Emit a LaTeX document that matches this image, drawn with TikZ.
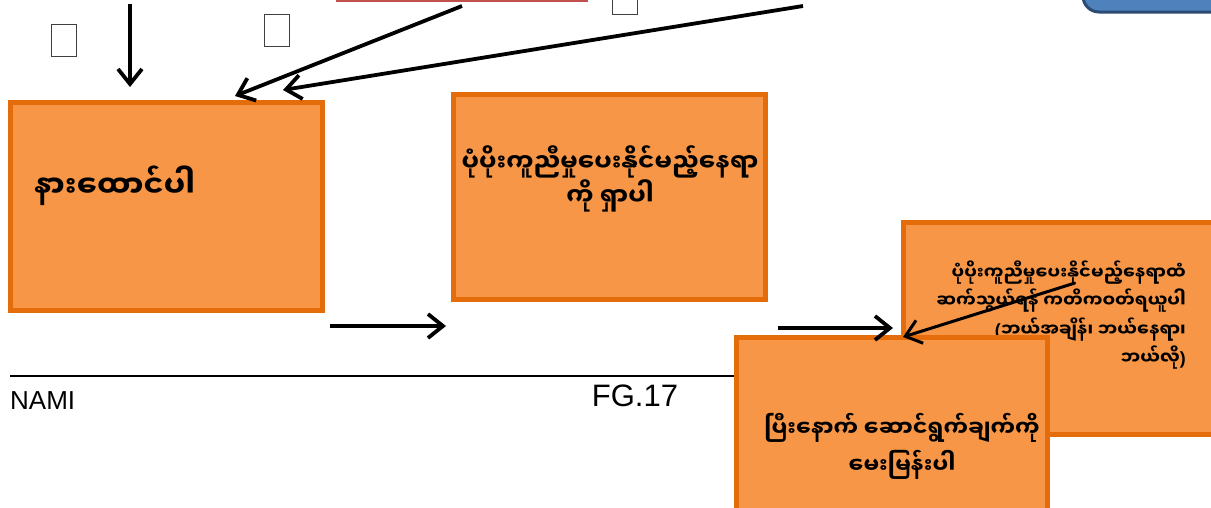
\documentclass[tikz,border=0pt]{standalone}
\usepackage{fontspec}
\setmainfont{Liberation Sans}
\newfontfamily\mya[Script=Myanmar]{Noto Sans Myanmar UI}
\usetikzlibrary{arrows.meta}
\definecolor{orfill}{HTML}{F79646}
\definecolor{ordraw}{HTML}{E46C0A}
\definecolor{bluefill}{HTML}{4F81BD}
\definecolor{bluedraw}{HTML}{2C4A72}
\definecolor{redline}{HTML}{C0504D}
\newcommand{\lp}{{\normalfont\bfseries (}}
\newcommand{\rp}{{\normalfont\bfseries )}}
\tikzset{
  obox/.style={draw=ordraw, fill=orfill, line width=5pt, inner sep=0pt},
  tofu/.style={draw=black!75, line width=0.9pt, fill=white, minimum width=25pt, minimum height=32pt, inner sep=0pt},
  arr/.style={line width=3.8pt, -{Straight Barb[length=15pt,width=24pt]}},
  mtext/.style={font=\mya\bfseries, inner sep=0pt},
}
\begin{document}
\begin{tikzpicture}[x=1pt,y=-1pt]
\useasboundingbox (0,0) rectangle (1211,507);
% top partial shapes
\node[draw=redline, line width=1.5pt, fill=white, minimum width=250pt, minimum height=30pt, inner sep=0pt] (redbox) at (462,-14) {};
\node[draw=bluedraw, fill=bluefill, line width=3pt, rounded corners=16pt, minimum width=180pt, minimum height=70pt, inner sep=0pt] (bluebox) at (1173,-23) {};
% tofu squares
\node[tofu] (t1) at (64,40.5) {};
\node[tofu] (t2) at (277,30.5) {};
\node[tofu] (t3) at (624.5,-2) {};
% footer line
\coordinate (fl) at (10,376);
\coordinate (fr) at (1211,376);
\draw[line width=2pt] (fl) -- (fr);
\node[font=\fontsize{26}{28}\selectfont, anchor=west, inner sep=0pt] (nami) at (10,401) {NAMI};
\node[font=\fontsize{31}{33}\selectfont, anchor=center, inner sep=0pt] (fg) at (635,396) {FG.17};
% boxes
\node[obox, minimum width=312pt, minimum height=208pt] (A) at (166.5,206.5) {};
\node[mtext, font=\mya\bfseries\fontsize{30}{34}\selectfont, anchor=west] (Atext) at (34,186) {နားထောင်ပါ};
\node[obox, minimum width=312pt, minimum height=205pt] (B) at (609.5,197) {};
\node[mtext, font=\mya\bfseries\fontsize{24.5}{31}\selectfont, align=center] (Btext) at (610,179) {ပုံပိုးကူညီမှုပေးနိုင်မည့်နေရာ\\ကို ရှာပါ};
\node[obox, minimum width=320pt, minimum height=212pt] (C) at (1063.5,328.5) {};
\node[mtext, font=\mya\bfseries\fontsize{17.7}{28.5}\selectfont, align=right, anchor=east] (Ctext) at (1186,315) {ပုံပိုးကူညီမှုပေးနိုင်မည့်နေရာထံ\\ဆက်သွယ်ရန် ကတိကဝတ်ရယူပါ\\\lp ဘယ်အချိန်၊ ဘယ်နေရာ၊\\ဘယ်လို\rp};
\node[obox, minimum width=311pt, minimum height=210pt] (D) at (892,442.5) {};
\node[mtext, font=\mya\bfseries\fontsize{22}{37}\selectfont, align=center] (Dtext) at (902,446) {ပြီးနောက် ဆောင်ရွက်ချက်ကို\\မေးမြန်းပါ};
% arrows
\coordinate (a1s) at (130,4);
\coordinate (a1e) at (130,87);
\draw[arr] (a1s) -- (a1e);
\coordinate (a2s) at (462,6);
\coordinate (a2e) at (235,96);
\draw[arr] (a2s) -- (a2e);
\coordinate (a3s) at (803,6);
\coordinate (a3e) at (283,90);
\draw[arr] (a3s) -- (a3e);
\coordinate (a4s) at (330,326);
\coordinate (a4e) at (446,326);
\draw[arr] (a4s) -- (a4e);
\coordinate (a5s) at (778,328);
\coordinate (a5e) at (893,328);
\draw[arr] (a5s) -- (a5e);
\coordinate (a6s) at (1075,283);
\coordinate (a6e) at (903,337);
\draw[arr, line width=3pt] (a6s) -- (a6e);
\end{tikzpicture}
\end{document}
